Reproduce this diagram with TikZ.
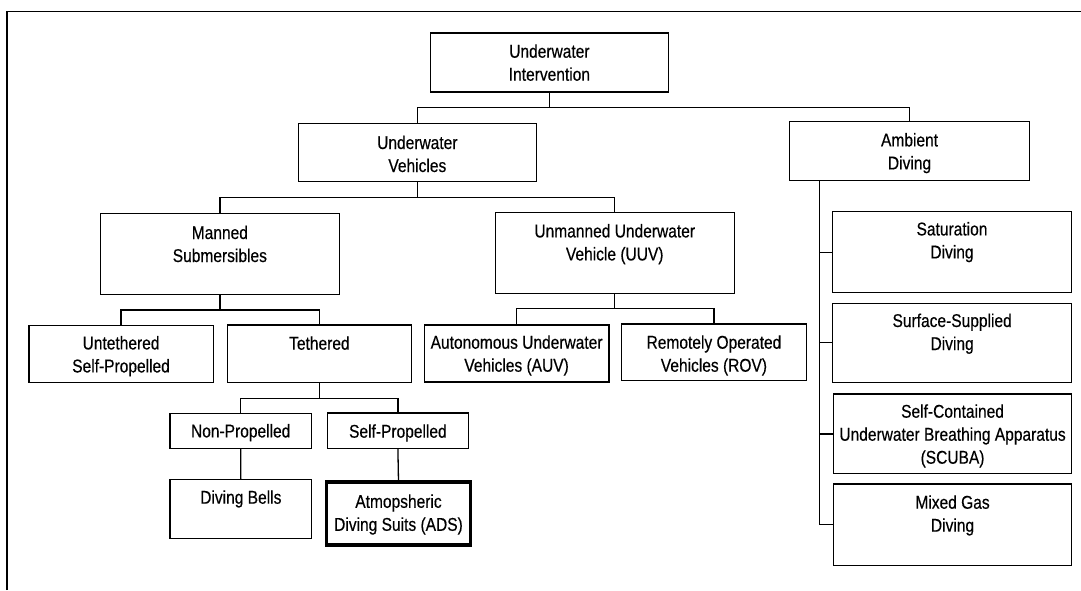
\documentclass[tikz,border=0pt]{standalone}
\usepackage{fontspec}
\setmainfont{Liberation Sans}[FakeStretch=0.84, FakeBold=0.4]
\usetikzlibrary{calc}
\tikzset{
  boxst/.style={draw, line width=1.3pt, rectangle, inner sep=0pt, outer sep=0pt, fill=white},
  adsst/.style={boxst, line width=3.3pt},
  txt/.style={anchor=north, align=center, inner sep=0pt, font=\fontsize{18.5}{23}\selectfont},
  conn/.style={line width=1.3pt},
  frame/.style={line width=1.5pt},
}
% [baseline offset]{name}{x1}{y1}{x2}{y2}{text}
\newcommand\mybox[7][24.5]{%
  \node[boxst, minimum width={(#5-#3)*1pt}, minimum height={(#6-#4)*1pt}] (#2) at ({(#3+#5)/2},{(#4+#6)/2}) {};
  \node[txt] (#2-t) at ([yshift={-(#1-15)*1pt}]#2.north) {\rule{0pt}{15pt}#7};
}
\begin{document}
\begin{tikzpicture}[x=1pt, y=-1pt]
  \fill[white] (0,0) rectangle (1081,590);
  \useasboundingbox (0,0) rectangle (1081,590);
  % frame
  \draw[frame] (7.2,590) -- (7.2,11.5) -- (1081,11.5);

  \mybox{UI}{430.4}{33}{668.4}{92}{Underwater\\Intervention}
  \mybox[25.5]{UV}{298.2}{123.3}{536.5}{181.7}{Underwater\\Vehicles}
  \mybox{AD}{789.8}{121.7}{1029.3}{180.3}{Ambient\\Diving}
  \mybox[25.5]{MS}{100.2}{213.3}{339.5}{294.7}{Manned\\Submersibles}
  \mybox{UUV}{495.2}{212.7}{734.3}{293.3}{Unmanned Underwater\\Vehicle (UUV)}
  \mybox[23.5]{SAT}{832.6}{211.7}{1071.4}{292.7}{Saturation\\Diving}
  \mybox[23.5]{UNT}{28.9}{325.7}{213.2}{382.7}{Untethered\\Self-Propelled}
  \mybox{TET}{227.3}{325}{411.5}{382.7}{Tethered}
  \mybox[23.5]{AUV}{424.2}{325}{609}{382}{Autonomous Underwater\\Vehicles (AUV)}
  \mybox{ROV}{621.4}{324}{806.5}{380.7}{Remotely Operated\\Vehicles (ROV)}
  \mybox[23.5]{SS}{832.7}{303.3}{1071.6}{382.3}{Surface-Supplied\\Diving}
  \mybox[23.5]{SCUBA}{833.3}{394}{1071.8}{473.7}{Self-Contained\\Underwater Breathing Apparatus\\(SCUBA)}
  \mybox{MG}{833.3}{484}{1071.8}{565.3}{Mixed Gas\\Diving}
  \mybox[23.5]{NP}{170.1}{413.7}{311.3}{448.7}{Non-Propelled}
  \mybox{SP}{327.5}{413}{468.3}{448.7}{Self-Propelled}
  \mybox[24]{DB}{170.1}{479.5}{311.6}{538.7}{Diving Bells}
  % ADS (thick border)
  \node[adsst, minimum width=143.8pt, minimum height=62.8pt] (ADS) at (398.5,513.5) {};
  \node[txt] (ADS-t) at ([yshift=-10.5pt]ADS.north) {\rule{0pt}{15pt}Atmopsheric\\Diving Suits (ADS)};

  % connectors
  \coordinate (b1) at ($(UI.south)!0.5!(UV.north)$);
  \draw[conn] (UI.south) -- (UI.south |- b1);
  \draw[conn] (UV.north) |- (b1 -| AD.north) -- (AD.north);

  \coordinate (b2) at ($(UV.south)!0.5!(MS.north)$);
  \draw[conn] (UV.south) -- (UV.south |- b2);
  \draw[conn] (MS.north) |- (b2 -| UUV.north) -- (UUV.north);

  \coordinate (b3) at ($(MS.south)!0.5!(TET.north)$);
  \draw[conn] (MS.south) -- (MS.south |- b3);
  \draw[conn] (UNT.north) |- (b3 -| TET.north) -- (TET.north);

  \coordinate (b4) at ($(UUV.south)!0.5!(ROV.north)$);
  \draw[conn] (UUV.south) -- (UUV.south |- b4);
  \draw[conn] (AUV.north) |- (b4 -| ROV.north) -- (ROV.north);

  \coordinate (b5) at ($(TET.south)!0.5!(NP.north)$);
  \draw[conn] (TET.south) -- (TET.south |- b5);
  \draw[conn] (NP.north) |- (b5 -| SP.north) -- (SP.north);

  \draw[conn] (NP.south) -- (DB.north);
  \draw[conn] (SP.south) -- (ADS.north);

  \coordinate (spine) at (819.5,0);
  \draw[conn] (AD.south -| spine) |- (MG.west);
  \draw[conn] (SAT.west) -- (SAT.west -| spine);
  \draw[conn] (SS.west) -- (SS.west -| spine);
  \draw[conn] (SCUBA.west) -- (SCUBA.west -| spine);
\end{tikzpicture}
\end{document}
